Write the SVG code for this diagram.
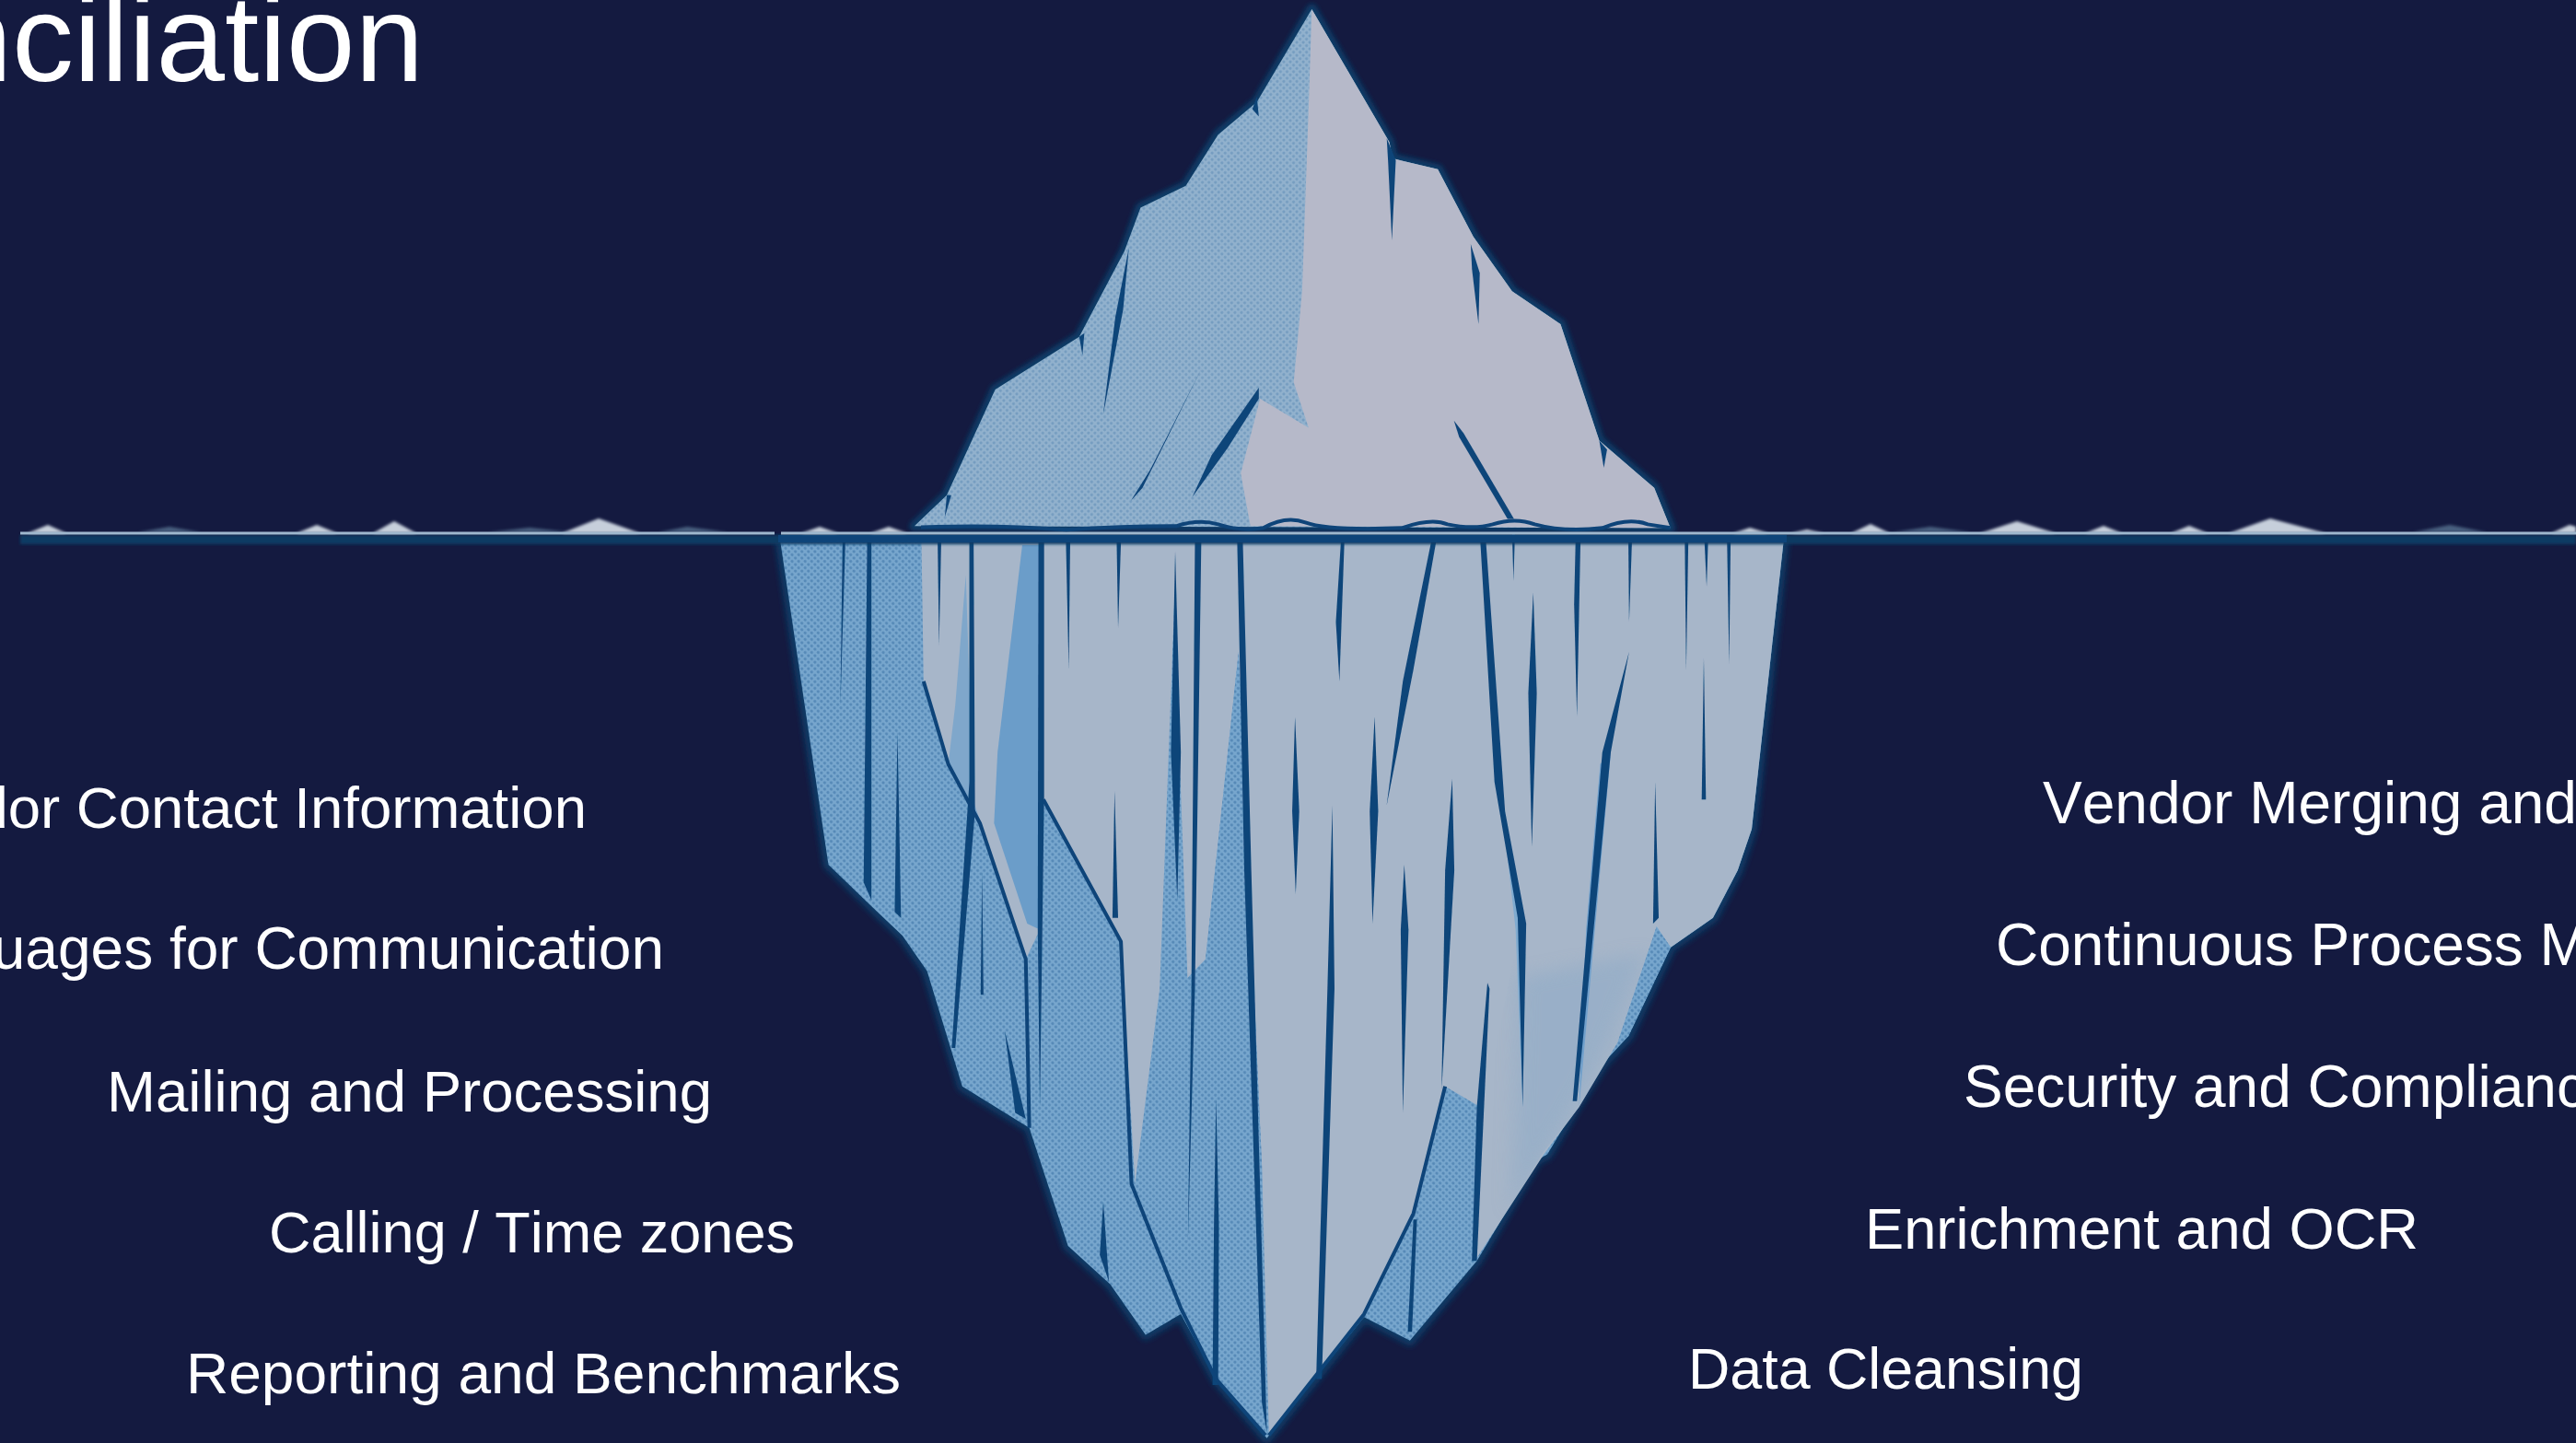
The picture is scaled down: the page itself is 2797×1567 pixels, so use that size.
<svg xmlns="http://www.w3.org/2000/svg" width="2797" height="1567" viewBox="0 0 2797 1567">
<style>
.bg{fill:#141a40}
.c{fill:#0e4479}
.lbl{font-family:"Liberation Sans",Arial,sans-serif;font-size:63px;fill:#fff;font-kerning:none}
.ttl{font-family:"Liberation Sans",Arial,sans-serif;font-size:134px;fill:#fff}
.edge{fill:#0e3b66;stroke:#0e3b66;stroke-width:11px;vector-effect:non-scaling-stroke;stroke-linejoin:round}
.lineb{fill:none;stroke:#0e4479;stroke-width:4px;vector-effect:non-scaling-stroke;stroke-linejoin:round}
</style>
<defs>
<pattern id="htTop" width="5" height="5" patternUnits="userSpaceOnUse" patternTransform="scale(1.4255,2.529) rotate(45)">
<rect width="5" height="5" fill="#91b1cd"/><circle cx="2.5" cy="2.5" r="1.5" fill="#739bbf"/>
</pattern>
<pattern id="htBot" width="5" height="5" patternUnits="userSpaceOnUse" patternTransform="scale(1.3067,1.557) rotate(45)">
<rect width="5" height="5" fill="#77a6cd"/><circle cx="2.5" cy="2.5" r="1.6" fill="#5488b6"/>
</pattern>
<clipPath id="lightArea"><polygon points="1110,700 1305,695 1250,890 1195,1000 1145,1075 1060,1240 1060,1000"/></clipPath>
<filter id="bt" x="-5%" y="-5%" width="110%" height="110%"><feGaussianBlur stdDeviation="4 7"/></filter>
<filter id="bb" x="-5%" y="-5%" width="110%" height="110%"><feGaussianBlur stdDeviation="4 5"/></filter>
<filter id="soft" x="-10%" y="-10%" width="120%" height="120%"><feGaussianBlur stdDeviation="1"/></filter>
<filter id="wide" x="-30%" y="-30%" width="160%" height="160%"><feGaussianBlur stdDeviation="14"/></filter>
<filter id="b1" x="-2%" y="-100%" width="104%" height="300%"><feGaussianBlur stdDeviation="1.8"/></filter>
</defs>
<rect class="bg" width="2797" height="1567"/>

<g id="iceberg-top" transform="translate(800,0) scale(0.7015,0.3954)">
<polygon class="edge" filter="url(#bt)" points="890,25 1010,390 1015,435 1085,465 1140,650 1200,800 1275,890 1335,1210 1420,1340 1445,1450 275,1445 325,1360 400,1070 530,925 600,690 625,570 695,510 745,370 805,280"/>
<polygon fill="url(#htTop)" points="890,25 1010,390 1015,435 1085,465 1140,650 1200,800 1275,890 1335,1210 1420,1340 1445,1450 275,1445 325,1360 400,1070 530,925 600,690 625,570 695,510 745,370 805,280"/>
<polygon fill="#b6b9c9" points="890,25 1010,390 1015,435 1085,465 1140,650 1200,800 1275,890 1335,1210 1420,1340 1445,1450 795,1445 780,1300 810,1095 885,1175 862,1050 875,800 885,300"/>
<g class="c" filter="url(#soft)">
<polygon points="805,265 808,320 798,300"/>
<polygon points="1006,380 1020,440 1014,660 1008,440"/>
<polygon points="1136,670 1150,750 1148,890 1138,740"/>
<polygon points="1335,1210 1342,1285 1347,1235"/>
<polygon points="607,680 598,850 567,1140 586,870"/>
<polygon points="530,925 535,975 538,915"/>
<polygon points="720,1010 640,1290 610,1375 628,1340"/>
<polygon points="808,1065 808,1095 760,1230 705,1365 735,1250"/>
<polygon points="1110,1155 1125,1190 1203,1425 1193,1425 1118,1200"/>
<polygon points="325,1360 322,1420 332,1360"/>
</g>
</g>

<g id="iceberg-bottom" transform="translate(800,560) scale(0.7653,0.6422)">
<polygon class="edge" filter="url(#bb)" points="62,45 1485,45 1440,530 1420,600 1385,680 1325,730 1265,880 1230,925 1190,1000 1150,1080 1135,1090 1050,1260 955,1395 890,1355 752,1560 680,1460 630,1350 580,1385 530,1300 470,1235 415,1035 320,965 270,770 235,710 195,665 130,590"/>
<polygon fill="url(#htBot)" points="62,45 1485,45 1440,530 1420,600 1385,680 1325,730 1265,880 1230,925 1190,1000 1150,1080 1135,1090 1050,1260 955,1395 890,1355 752,1560 680,1460 630,1350 580,1385 530,1300 470,1235 415,1035 320,965 270,770 235,710 195,665 130,590"/>
<polygon fill="#a7b6c9" points="435,45 1485,45 1440,530 1420,600 1385,680 1325,730 1305,695 1250,890 1195,1000 1145,1080 1050,1255 1055,1000 1005,965 960,1180 890,1350 755,1555 745,1100 712,230 665,750 600,830 565,1130 545,720 435,480"/>
<polygon fill="#a7b6c9" points="262,45 430,45 435,480 430,700 410,750 345,520 300,420 265,280"/>
<g clip-path="url(#lightArea)"><polygon fill="#94adc7" opacity=".75" filter="url(#wide)" points="1110,780 1290,740 1240,890 1190,1000 1150,1080 1100,1180"/></g>
<polygon fill="url(#htBot)" points="622,110 600,800 565,1130 630,1340 680,1460 750,1555 745,1100 712,230 665,750 640,800 628,400"/>
<polygon fill="#6b9dc9" points="405,50 430,50 435,480 430,700 412,690 365,520 370,400"/>
<polygon fill="#7fa7cb" points="325,100 335,480 345,515 300,420 310,320"/>
<polygon fill="#7fabd0" points="1090,540 1115,680 1115,1000 1105,700"/>
<polygon fill="#6f9fcb" points="1240,400 1195,1000 1205,700 1225,420"/>
<polygon fill="url(#htBot)" points="1305,695 1325,730 1265,880 1250,890"/>
<g class="c" filter="url(#soft)">
<polygon points="150,45 154,45 147,320"/>
<polygon points="185,45 191,45 191,650 180,620"/>
<polygon points="228,365 233,680 224,670"/>
<polygon points="285,45 290,45 287,220"/>
<polygon points="330,45 336,45 338,500 310,900 305,900 330,450"/>
<polygon points="428,45 436,45 436,480 430,1000 427,700"/>
<polygon points="348,600 350,810 346,810"/>
<polygon points="380,870 410,1020 395,1010"/>
<polygon points="467,45 473,45 471,260"/>
<polygon points="539,45 545,45 541,190"/>
<polygon points="536,465 541,680 533,680"/>
<polygon points="622,60 630,400 625,650 616,400"/>
<polygon points="650,45 659,45 650,800 640,1230 645,800"/>
<polygon points="710,45 718,45 730,600 752,1550 745,1500 720,600"/>
<polygon points="680,985 684,1200 683,1470 675,1470 677,1200"/>
<polygon points="857,45 862,45 855,280 850,180"/>
<polygon points="792,340 798,500 793,640 788,500"/>
<polygon points="845,490 848,800 830,1460 822,1460 838,800"/>
<polygon points="905,340 910,500 902,690 898,500"/>
<polygon points="985,45 992,45 960,260 922,490 945,280"/>
<polygon points="1015,445 1018,600 1000,970 1005,600"/>
<polygon points="947,590 953,700 945,1010 942,700"/>
<polygon points="1065,790 1068,800 1050,1260 1043,1260 1050,1000"/>
<polygon points="960,1190 965,1190 958,1380 952,1380"/>
<polygon points="1055,45 1063,45 1090,500 1120,690 1115,1000 1108,680 1075,450"/>
<polygon points="1100,30 1104,30 1102,110"/>
<polygon points="1130,130 1135,300 1128,560 1123,300"/>
<polygon points="1190,45 1197,45 1192,340 1188,150"/>
<polygon points="1265,45 1270,45 1266,180"/>
<polygon points="1345,45 1350,45 1347,260"/>
<polygon points="1373,45 1378,45 1376,120"/>
<polygon points="1405,45 1410,45 1408,250"/>
<polygon points="1372,240 1375,480 1369,480"/>
<polygon points="1266,230 1240,400 1192,990 1186,990 1228,400"/>
<polygon points="1303,450 1308,680 1300,690"/>
<polygon points="520,1160 528,1295 515,1250"/>
</g>
<polyline class="lineb" points="265,280 300,420 345,520 410,750 415,1035"/>
<polyline class="lineb" points="435,480 545,720 560,1130 630,1340 680,1460 750,1555"/>
<polyline class="lineb" points="755,1555 890,1350 960,1180 1005,965"/>
</g>

<g id="waterline">
<rect x="22" y="581" width="2775" height="10" fill="#0f3a64" filter="url(#b1)"/>
<rect x="845" y="581" width="1095" height="8" fill="#0e4479"/>
<path fill="#5f7d9a" opacity=".7" filter="url(#b1)" d="M150,578 L184,572 L218,578 Z M530,578 L575,573 L620,578 Z M715,578 L746,572 L790,578 Z M2055,578 L2096,572 L2140,578 Z M2620,578 L2660,570 L2700,578 Z"/>
<path fill="#c6cfdb" filter="url(#b1)" d="M30,579 L52,570 L72,579 Z M322,579 L344,570 L366,579 Z M405,579 L428,566 L452,579 Z M610,579 L650,563 L695,579 Z M870,579 L890,572 L910,579 Z M945,579 L965,572 L985,579 Z M1882,579 L1900,573 L1920,579 Z M1945,579 L1962,575 L1980,579 Z M2010,579 L2031,569 L2052,579 Z M2150,579 L2190,566 L2232,579 Z M2264,579 L2284,571 L2304,579 Z M2357,579 L2377,571 L2397,579 Z M2420,579 L2465,563 L2525,579 Z M2770,579 L2790,570 L2797,572 L2797,579 Z"/>
<rect x="22" y="577.5" width="819" height="3" fill="#9fb8ce"/>
<rect x="848" y="577.5" width="1949" height="3" fill="#9fb8ce"/>
</g>
<g id="iceberg-wave" transform="translate(800,0) scale(0.7015,0.3954)">
<path fill="none" stroke="#0e4479" stroke-width="4" vector-effect="non-scaling-stroke" d="M285,1448 Q400,1440 510,1455 Q600,1445 680,1445 Q715,1425 745,1440 Q780,1460 815,1450 Q850,1415 880,1435 Q915,1458 1030,1450 Q1075,1422 1100,1440 Q1140,1455 1170,1440 Q1205,1420 1235,1440 Q1280,1462 1340,1450 Q1380,1420 1410,1440 L1445,1450"/>
</g>

<g id="title"><text class="ttl" text-anchor="end" x="460" y="88">nciliation</text></g>

<g id="labels-left">
<text class="lbl" style="font-size:63.5px" text-anchor="end" x="637" y="899">dor Contact Information</text>
<text class="lbl" style="font-size:64px" text-anchor="end" x="721" y="1052">uages for Communication</text>
<text class="lbl" x="116" y="1207" textLength="657" lengthAdjust="spacingAndGlyphs">Mailing and Processing</text>
<text class="lbl" x="292" y="1360" textLength="571" lengthAdjust="spacingAndGlyphs">Calling / Time zones</text>
<text class="lbl" x="202" y="1513" textLength="776" lengthAdjust="spacingAndGlyphs">Reporting and Benchmarks</text>
</g>
<g id="labels-right">
<text class="lbl" style="font-size:64px" x="2218" y="894">Vendor Merging and</text>
<text class="lbl" style="font-size:64px" x="2167" y="1048">Continuous Process M</text>
<text class="lbl" style="font-size:64px" x="2132" y="1202">Security and Complianc</text>
<text class="lbl" x="2025" y="1356" textLength="601" lengthAdjust="spacingAndGlyphs">Enrichment and OCR</text>
<text class="lbl" x="1833" y="1508" textLength="429" lengthAdjust="spacingAndGlyphs">Data Cleansing</text>
</g>
</svg>
